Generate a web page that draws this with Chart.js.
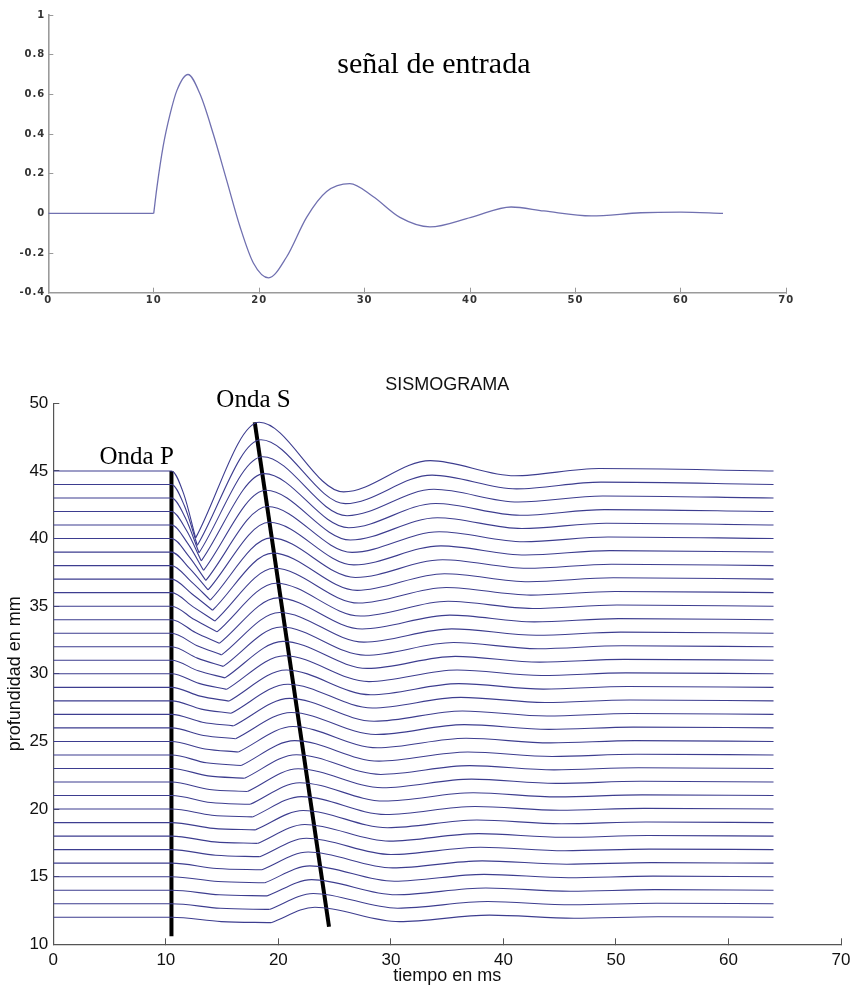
<!DOCTYPE html>
<html>
<head>
<meta charset="utf-8">
<title>Sismograma</title>
<script src="https://cdn.jsdelivr.net/npm/chart.js@4.4.1/dist/chart.umd.min.js"></script>
<style>
  body { margin: 0; background: #fff; }
  #wrap { position: relative; width: 862px; height: 987px; }
  canvas { position: absolute; left: 0; }
  #signal { top: 0; }
  #sismo { top: 360px; }
</style>
</head>
<body>
<div id="wrap">
  <canvas id="signal" width="862" height="330"></canvas>
  <canvas id="sismo" width="862" height="627"></canvas>
</div>
<script>
// input pulse (time in ms, amplitude)
const sigT = [0, 10, 10.3, 10.9, 11.55, 12.2, 13.25, 14.4, 15.65, 16.9, 18.2, 19.45, 20.9, 22.6, 24.5, 26.4,
  28.6, 30.8, 33.35, 36.2, 40.1, 43.9, 47.0, 51.5, 56.2, 60.0, 64.0];
const sigV = [0, 0, 0.13, 0.34, 0.5, 0.62, 0.70, 0.6, 0.4, 0.17, -0.07, -0.25, -0.325, -0.22, -0.02, 0.11,
  0.15, 0.085, -0.02, -0.068, -0.02, 0.032, 0.012, -0.013, 0.003, 0.006, 0];

// seismogram traces, one per depth (mm); knots of each trace in ms / mm
const depths = [45, 44, 43, 42, 41, 40, 39, 38, 37, 36, 35, 34, 33, 32, 31, 30, 29, 28, 27, 26, 25, 24, 23,
  22, 21, 20, 19, 18, 17, 16, 15, 14, 13, 12];
const pOnset = 10.5;
const traceEnd = 64;
const pMidT = [11.58, 11.65, 11.73, 11.83, 11.93, 12.03, 12.13, 12.23, 12.33, 12.43, 12.53, 12.63, 12.73, 12.8,
  12.88, 12.95, 13.05, 13.15, 13.25, 13.35, 13.48, 13.6, 13.75, 13.88, 14.0, 14.1, 14.23, 14.33, 14.43, 14.53,
  14.65, 14.75, 14.85, 14.93];
const pMidY = [43.32, 42.42, 41.54, 40.61, 39.66, 38.7, 37.77, 36.83, 35.9, 34.95, 34.01, 33.05, 32.1, 31.16,
  30.22, 29.29, 28.35, 27.39, 26.42, 25.44, 24.44, 23.42, 22.45, 21.45, 20.48, 19.54, 18.57, 17.57, 16.58,
  15.61, 14.64, 13.66, 12.66, 11.68];
const sOnsetT = [12.65, 12.8, 12.95, 13.15, 13.35, 13.55, 13.75, 13.95, 14.15, 14.35, 14.55, 14.75, 14.95, 15.1,
  15.25, 15.4, 15.6, 15.8, 16.0, 16.2, 16.45, 16.7, 17.0, 17.25, 17.5, 17.7, 17.95, 18.15, 18.35, 18.55, 18.8,
  19.0, 19.2, 19.35];
const sOnsetY = [40.05, 39.5, 38.95, 38.35, 37.65, 36.9, 36.2, 35.45, 34.7, 33.9, 33.1, 32.25, 31.4, 30.55,
  29.7, 28.85, 27.98, 27.08, 26.15, 25.2, 24.22, 23.22, 22.28, 21.3, 20.35, 19.42, 18.46, 17.46, 16.48, 15.51,
  14.55, 13.58, 12.58, 11.6];
const sPeakT = [18.3, 18.45, 18.6, 18.75, 18.9, 19.05, 19.2, 19.35, 19.5, 19.65, 19.8, 19.95, 20.1, 20.25, 20.4,
  20.55, 20.7, 20.85, 21.0, 21.15, 21.3, 21.45, 21.6, 21.75, 21.9, 22.05, 22.2, 22.35, 22.5, 22.65, 22.8,
  22.95, 23.1, 23.25];
const sPeakY = [48.6, 47.3, 46.05, 44.8, 43.57, 42.37, 41.2, 40.05, 38.92, 37.8, 36.7, 35.61, 34.53, 33.46,
  32.4, 31.34, 30.28, 29.23, 28.18, 27.14, 26.1, 25.06, 24.02, 22.98, 21.95, 20.92, 19.89, 18.86, 17.84,
  16.82, 15.8, 14.78, 13.76, 12.74];
const trough2T = [25.8, 25.95, 26.1, 26.25, 26.4, 26.55, 26.7, 26.85, 27.0, 27.15, 27.3, 27.45, 27.6, 27.75,
  27.9, 28.05, 28.2, 28.35, 28.5, 28.65, 28.8, 28.95, 29.1, 29.25, 29.4, 29.55, 29.7, 29.85, 30.0, 30.15,
  30.3, 30.45, 30.6, 30.75];
const trough2Y = [43.45, 42.58, 41.69, 40.8, 39.89, 38.98, 38.05, 37.12, 36.17, 35.23, 34.27, 33.31, 32.34,
  31.37, 30.4, 29.42, 28.45, 27.47, 26.49, 25.51, 24.53, 23.54, 22.56, 21.58, 20.59, 19.6, 18.62, 17.63,
  16.64, 15.65, 14.66, 13.66, 12.67, 11.68];
const peak2T = [33.5, 33.66, 33.82, 33.97, 34.13, 34.29, 34.45, 34.6, 34.76, 34.92, 35.08, 35.24, 35.4, 35.56,
  35.72, 35.88, 36.04, 36.2, 36.36, 36.52, 36.68, 36.84, 37.0, 37.16, 37.32, 37.48, 37.64, 37.8, 37.96,
  38.12, 38.28, 38.44, 38.6, 38.76];
const peak2Y = [45.76, 44.69, 43.64, 42.59, 41.54, 40.5, 39.46, 38.43, 37.4, 36.38, 35.36, 34.34, 33.32, 32.31,
  31.29, 30.28, 29.27, 28.26, 27.25, 26.24, 25.23, 24.22, 23.21, 22.21, 21.2, 20.19, 19.19, 18.18, 17.18,
  16.17, 15.17, 14.16, 13.16, 12.16];
const trough3T = [41.0, 41.16, 41.32, 41.47, 41.63, 41.79, 41.95, 42.1, 42.26, 42.42, 42.58, 42.74, 42.9,
  43.06, 43.22, 43.38, 43.54, 43.7, 43.86, 44.02, 44.18, 44.34, 44.5, 44.66, 44.82, 44.98, 45.14, 45.3,
  45.46, 45.62, 45.78, 45.94, 46.1, 46.26];
const trough3Y = [44.64, 43.67, 42.7, 41.72, 40.74, 39.76, 38.78, 37.8, 36.81, 35.82, 34.83, 33.84, 32.85,
  31.85, 30.86, 29.87, 28.87, 27.88, 26.88, 25.89, 24.89, 23.89, 22.9, 21.9, 20.9, 19.91, 18.91, 17.91,
  16.92, 15.92, 14.92, 13.92, 12.92, 11.93];
const peak3T = [48.5, 48.66, 48.82, 48.97, 49.13, 49.29, 49.45, 49.6, 49.76, 49.92, 50.08, 50.24, 50.4, 50.56,
  50.72, 50.88, 51.04, 51.2, 51.36, 51.52, 51.68, 51.84, 52.0, 52.16, 52.32, 52.48, 52.64, 52.8, 52.96,
  53.12, 53.28, 53.44, 53.6, 53.76];
const peak3Y = [45.18, 44.17, 43.15, 42.14, 41.13, 40.12, 39.11, 38.1, 37.1, 36.09, 35.09, 34.08, 33.08, 32.07,
  31.07, 30.07, 29.06, 28.06, 27.06, 26.06, 25.06, 24.05, 23.05, 22.05, 21.05, 20.05, 19.04, 18.04, 17.04,
  16.04, 15.04, 14.04, 13.04, 12.04];

// hand-drawn arrival lines
const pLineT = [10.5, 10.5];
const pLineY = [45, 10.6];
const sLineT = [17.9, 24.5];
const sLineY = [48.6, 11.3];

const pts = (xs, ys) => xs.map((x, i) => ({ x: x, y: ys[i] }));

// text placed at data coordinates
const textLabels = {
  id: 'textLabels',
  afterDatasetsDraw(chart, args, opts) {
    const ctx = chart.ctx;
    const sx = chart.scales.x, sy = chart.scales.y;
    ctx.save();
    ctx.letterSpacing = '0px';
    (opts.items || []).forEach(item => {
      ctx.font = item.font;
      ctx.fillStyle = item.color || '#000';
      ctx.textAlign = item.align || 'left';
      ctx.textBaseline = 'alphabetic';
      ctx.fillText(item.text, sx.getPixelForValue(item.at[0]), sy.getPixelForValue(item.at[1]));
    });
    ctx.restore();
  }
};

// spread out the small tick digits of the pulse plot
const wideTicks = {
  id: 'wideTicks',
  beforeDraw(chart, args, opts) { chart.ctx.letterSpacing = opts.spacing || '0px'; },
  beforeDatasetsDraw(chart) { chart.ctx.letterSpacing = '0px'; }
};

// ---- top: input pulse ----
const pulseColor = '#7070b0';
const tickFont = { family: 'DejaVu Sans', size: 10, weight: 'bold' };
new Chart(document.getElementById('signal'), {
  type: 'line',
  data: {
    datasets: [
      { data: pts(sigT.slice(0, 2), sigV.slice(0, 2)), borderColor: pulseColor, borderWidth: 1.3, tension: 0 },
      { data: pts(sigT.slice(1), sigV.slice(1)), borderColor: pulseColor, borderWidth: 1.3,
        cubicInterpolationMode: 'monotone' }
    ]
  },
  options: {
    responsive: false,
    animation: false,
    events: [],
    elements: { point: { radius: 0 } },
    layout: { padding: { left: 0, top: 15, right: 75.7, bottom: 0 } },
    plugins: {
      legend: { display: false },
      tooltip: { enabled: false },
      wideTicks: { spacing: '1px' },
      textLabels: {
        items: [{ text: 'señal de entrada', at: [36.57, 0.706], align: 'center',
          font: '30px "Liberation Serif", "Times New Roman", serif', color: '#000' }]
      }
    },
    scales: {
      x: {
        type: 'linear', min: 0, max: 70,
        afterFit(s) { s.height = 37.3; },
        ticks: { stepSize: 10, padding: 6.5, color: '#333', maxRotation: 0, font: tickFont },
        grid: { drawOnChartArea: false, tickLength: -5, color: '#999', lineWidth: 1 },
        border: { color: '#9a9a9a', width: 1.6 }
      },
      y: {
        min: -0.4, max: 1,
        afterFit(s) { s.width = 48.3; },
        ticks: { stepSize: 0.2, padding: 8, color: '#333', font: tickFont,
          callback: v => String(Math.round(v * 10) / 10) },
        grid: { drawOnChartArea: false, tickLength: -5, color: '#999', lineWidth: 1 },
        border: { color: '#9a9a9a', width: 1.6 }
      }
    }
  },
  plugins: [wideTicks, textLabels]
});

// ---- bottom: seismogram ----
const traceColor = '#3d3d8f';
const traceSets = [];
depths.forEach((d, i) => {
  // flat until the P arrival, then the P dip down to the S onset
  traceSets.push({
    data: [{ x: 0, y: d }, { x: pOnset, y: d }, { x: pMidT[i], y: pMidY[i] }, { x: sOnsetT[i], y: sOnsetY[i] }],
    borderColor: traceColor, borderWidth: 1.1, cubicInterpolationMode: 'monotone'
  });
  // S arrival and its ringing
  traceSets.push({
    data: [
      { x: sOnsetT[i], y: sOnsetY[i] }, { x: sPeakT[i], y: sPeakY[i] },
      { x: trough2T[i], y: trough2Y[i] }, { x: peak2T[i], y: peak2Y[i] },
      { x: trough3T[i], y: trough3Y[i] }, { x: peak3T[i], y: peak3Y[i] },
      { x: traceEnd, y: d }
    ],
    borderColor: traceColor, borderWidth: 1.1, cubicInterpolationMode: 'monotone'
  });
});
traceSets.push({ data: pts(pLineT, pLineY), borderColor: '#000', borderWidth: 4, tension: 0 });
traceSets.push({ data: pts(sLineT, sLineY), borderColor: '#000', borderWidth: 4, tension: 0 });

const axisFont = { family: '"Liberation Sans", Arial, sans-serif', size: 17 };
const titleFont = { family: '"Liberation Sans", Arial, sans-serif', size: 18 };
new Chart(document.getElementById('sismo'), {
  type: 'line',
  data: { datasets: traceSets },
  options: {
    responsive: false,
    animation: false,
    events: [],
    elements: { point: { radius: 0 } },
    layout: { padding: { left: 0, top: 0, right: 13, bottom: 0 } },
    plugins: {
      legend: { display: false },
      tooltip: { enabled: false },
      title: {
        display: true, text: 'SISMOGRAMA', fullSize: false, color: '#111',
        font: { family: '"Liberation Sans", Arial, sans-serif', size: 18, weight: 'normal' },
        padding: { top: 14.4, bottom: 7.3 }
      },
      textLabels: {
        items: [
          { text: 'Onda P', at: [4.11, 45.5], font: '25px "Liberation Serif", "Times New Roman", serif' },
          { text: 'Onda S', at: [14.49, 49.76], font: '25px "Liberation Serif", "Times New Roman", serif' }
        ]
      }
    },
    scales: {
      x: {
        type: 'linear', min: 0, max: 70,
        afterFit(s) { s.height = 42.7; },
        title: { display: true, text: 'tiempo en ms', color: '#111', font: titleFont, padding: { top: 0, bottom: 0 } },
        ticks: { stepSize: 10, padding: 11.5, color: '#111', maxRotation: 0, font: axisFont },
        grid: { drawOnChartArea: false, tickLength: -6, color: '#555', lineWidth: 1 },
        border: { color: '#555', width: 1.2 }
      },
      y: {
        min: 10, max: 50,
        afterFit(s) { s.width = 53.3; },
        title: { display: true, text: 'profundidad en mm', color: '#111', font: titleFont,
          padding: { top: 4.3, bottom: 0 } },
        ticks: { stepSize: 5, padding: 11, color: '#111', font: axisFont },
        grid: { drawOnChartArea: false, tickLength: -6, color: '#555', lineWidth: 1 },
        border: { color: '#555', width: 1.2 }
      }
    }
  },
  plugins: [textLabels]
});
</script>
</body>
</html>
